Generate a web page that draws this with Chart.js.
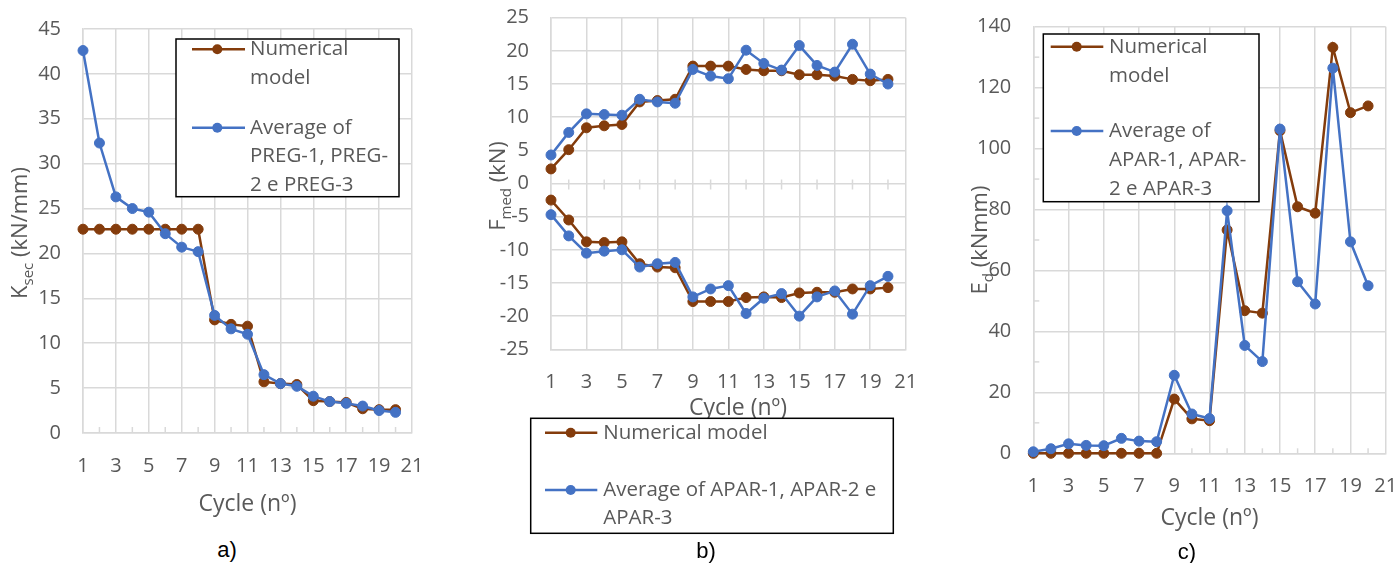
<!DOCTYPE html>
<html><head><meta charset="utf-8">
<script src="https://cdn.jsdelivr.net/npm/chart.js@4"></script>
<style>
html,body{margin:0;padding:0;background:#fff;}
body{width:1400px;height:563px;overflow:hidden;position:relative;}
.c{position:absolute;top:0;}
.cap{position:absolute;font:22px 'Liberation Sans',Arial,sans-serif;color:#000;transform:translate(-50%,-50%);line-height:1;}
</style></head><body>
<div class="c" style="left:0"><canvas id="ca" width="440" height="525"></canvas></div>
<div class="c" style="left:480px"><canvas id="cb" width="440" height="563"></canvas></div>
<div class="c" style="left:960px"><canvas id="cc" width="440" height="563"></canvas></div>
<div class="cap" style="left:227px;top:550px">a)</div>
<div class="cap" style="left:706px;top:551px">b)</div>
<div class="cap" style="left:1187px;top:552px">c)</div>
<script>
// ---------- DATA ----------
const cycles = [1,2,3,4,5,6,7,8,9,10,11,12,13,14,15,16,17,18,19,20];
const cycleTicks = [1,3,5,7,9,11,13,15,17,19,21];
const cycleMinorTicks = [2,4,6,8,10,12,14,16,18,20];

const seriesNumerical = 'Numerical model';
const seriesAvgPREG = 'Average of PREG-1, PREG-2 e PREG-3';
const seriesAvgAPAR = 'Average of APAR-1, APAR-2 e APAR-3';

// a) secant stiffness K_sec (kN/mm)
const ksecNumerical = [22.7,22.7,22.7,22.7,22.7,22.7,22.7,22.7,12.6,12.1,11.9,5.7,5.5,5.4,3.6,3.5,3.4,2.7,2.6,2.6];
const ksecAverage   = [42.6,32.3,26.3,25.0,24.6,22.2,20.7,20.2,13.1,11.6,11.0,6.5,5.5,5.2,4.1,3.5,3.3,3.0,2.5,2.3];

// b) mean force F_med (kN), positive and negative branches
const fmedNumericalPos = [2.2,5.1,8.4,8.7,8.9,12.3,12.5,12.7,17.7,17.7,17.7,17.2,17.0,17.0,16.4,16.4,16.2,15.7,15.5,15.7];
const fmedAveragePos   = [4.3,7.7,10.5,10.4,10.3,12.7,12.3,12.1,17.2,16.2,15.8,20.1,18.1,17.1,20.8,17.8,16.8,21.0,16.5,15.0];
const fmedNumericalNeg = [-2.5,-5.5,-8.8,-8.9,-8.8,-12.1,-12.6,-12.7,-17.8,-17.8,-17.8,-17.2,-17.1,-17.2,-16.5,-16.4,-16.4,-15.9,-15.9,-15.7];
const fmedAverageNeg   = [-4.7,-7.9,-10.5,-10.2,-10.0,-12.6,-12.1,-11.9,-17.1,-15.9,-15.4,-19.6,-17.3,-16.6,-20.0,-17.1,-16.2,-19.7,-15.4,-14.0];

// c) dissipated energy E_d (kNmm)
const edNumerical = [0,0,0,0,0,0,0,0,17.8,11.3,10.7,73.3,46.8,46.0,105.9,80.9,78.8,133.2,111.8,114.0];
const edAverage   = [0.5,1.5,3.1,2.6,2.5,4.9,4.0,3.8,25.6,12.9,11.4,79.6,35.4,30.1,106.4,56.3,49.0,126.4,69.4,55.0];
const edMinorTicks = [10,30,50,70,90,110,130];

// ---------- STYLE ----------
const BROWN = '#843C0C', BLUE = '#4472C4', GRID = '#d9d9d9', TXT = '#595959';
const FONT = "'Open Sans', 'Noto Sans', sans-serif";

function pts(vals){ return cycles.map((c,i)=>({x:c, y:vals[i]})); }
function ds(label, vals, color, order){
  return {label, data: pts(vals), borderColor: color, backgroundColor: color,
    pointBackgroundColor: color, pointBorderColor: color, pointRadius: 5, pointHoverRadius: 5,
    pointBorderWidth: 1, borderWidth: 2.5, tension: 0, clip: false, order};
}

const extras = {
  id: 'extras',
  beforeDatasetsDraw(chart, args, o){
    const ctx = chart.ctx, xs = chart.scales.x, ys = chart.scales.y;
    ctx.save();
    ctx.strokeStyle = GRID; ctx.lineWidth = 1.5;
    if (o.xMinor){
      const y0 = ys.getPixelForValue(o.xMinor.at);
      o.xMinor.values.forEach(v=>{
        const px = xs.getPixelForValue(v);
        ctx.beginPath(); ctx.moveTo(px, y0 - o.xMinor.up); ctx.lineTo(px, y0 + o.xMinor.down); ctx.stroke();
      });
    }
    if (o.yMinor){
      const x0 = xs.getPixelForValue(o.yMinor.at);
      o.yMinor.values.forEach(v=>{
        const py = ys.getPixelForValue(v);
        ctx.beginPath(); ctx.moveTo(x0, py); ctx.lineTo(x0 + o.yMinor.len, py); ctx.stroke();
      });
    }
    ctx.restore();
  },
  afterDraw(chart, args, o){
    const ctx = chart.ctx;
    ctx.save();
    ctx.fillStyle = TXT;
    (o.titles||[]).forEach(t=>{
      ctx.save();
      ctx.translate(t.x, t.y);
      if (t.rot) ctx.rotate(-Math.PI/2);
      ctx.textBaseline = 'alphabetic';
      const mainF = t.size + 'px ' + FONT, subF = t.subSize + 'px ' + FONT;
      ctx.font = mainF; const w1 = ctx.measureText(t.main).width;
      const w3 = ctx.measureText(t.after).width;
      ctx.font = subF; const w2 = t.sub ? ctx.measureText(t.sub).width : 0;
      let x = -(w1 + w2 + w3)/2;
      ctx.font = mainF; ctx.textAlign = 'left';
      ctx.fillText(t.main, x, 0); x += w1;
      if (t.sub){ ctx.font = subF; ctx.fillText(t.sub, x, t.subShift); x += w2; }
      ctx.font = mainF; ctx.fillText(t.after, x, 0);
      ctx.restore();
    });
    ctx.restore();
    const L = o.legend; if (!L) return;
    ctx.save();
    ctx.fillStyle = '#fff';
    ctx.fillRect(L.box[0], L.box[1], L.box[2]-L.box[0], L.box[3]-L.box[1]);
    ctx.strokeStyle = '#000'; ctx.lineWidth = 1.5;
    ctx.strokeRect(L.box[0], L.box[1], L.box[2]-L.box[0], L.box[3]-L.box[1]);
    L.items.forEach(it=>{
      const d = chart.data.datasets[it.ds];
      ctx.strokeStyle = d.borderColor; ctx.lineWidth = 2.5;
      ctx.beginPath(); ctx.moveTo(L.lineX[0], it.y); ctx.lineTo(L.lineX[1], it.y); ctx.stroke();
      ctx.fillStyle = d.borderColor;
      ctx.beginPath(); ctx.arc(L.markX, it.y, 5, 0, Math.PI*2); ctx.fill();
      ctx.fillStyle = TXT; ctx.font = L.size + 'px ' + FONT;
      ctx.textBaseline = 'middle'; ctx.textAlign = 'left';
      it.lines.forEach((ln,k)=> ctx.fillText(ln, L.textX, it.y + k*L.lh));
    });
    ctx.restore();
  }
};

function makeChart(id, cfg){
  return new Chart(document.getElementById(id), {
    type: 'line',
    data: {datasets: cfg.datasets},
    plugins: [extras],
    options: {
      responsive: false, animation: false, events: [],
      layout: {padding: {left: 0, top: cfg.top, right: cfg.right, bottom: 0}},
      plugins: {legend: {display: false}, tooltip: {enabled: false}, extras: cfg.extras},
      scales: {
        x: {type: 'linear', min: 1, max: 21,
          afterBuildTicks: s => { s.ticks = cycleTicks.map(v=>({value:v})); },
          afterFit: s => { s.height = cfg.xh; s.paddingLeft = 0; s.paddingRight = 0; },
          grid: {color: GRID, lineWidth: 1.5, drawTicks: false},
          border: {color: GRID, width: 1.5},
          ticks: {color: TXT, font: {family: FONT, size: 20}, padding: cfg.xpad, maxRotation: 0, autoSkip: false}},
        y: {type: 'linear', min: cfg.ymin, max: cfg.ymax,
          afterFit: s => { s.width = cfg.yw; s.paddingTop = 0; s.paddingBottom = 0; },
          grid: {color: GRID, lineWidth: 1.5, drawTicks: false},
          border: {color: GRID, width: 1.5},
          ticks: {stepSize: cfg.ystep, color: TXT, font: {family: FONT, size: 20}, padding: 22}}
      }
    }
  });
}

// a)
makeChart('ca', {
  datasets: [ds(seriesNumerical, ksecNumerical, BROWN, 2), ds(seriesAvgPREG, ksecAverage, BLUE, 1)],
  top: 29, right: 28, xh: 92, yw: 83, xpad: 21, ymin: 0, ymax: 45, ystep: 5,
  extras: {
    xMinor: {values: cycleMinorTicks, at: 0, up: 6, down: 0},
    titles: [
      {main: 'K', sub: 'sec', after: ' (kN/mm)', x: 27, y: 233, rot: true, size: 22, subSize: 15, subShift: 6},
      {main: 'Cycle (nº)', sub: '', after: '', x: 247.5, y: 511, rot: false, size: 23, subSize: 15, subShift: 0}
    ],
    legend: {box: [176, 39, 399, 196.7], lineX: [192, 245], markX: 217.3, textX: 250, lh: 28.8, size: 20.5,
      items: [{ds: 0, y: 49.3, lines: ['Numerical', 'model']},
              {ds: 1, y: 127.7, lines: ['Average of', 'PREG-1, PREG-', '2 e PREG-3']}]}
  }
});

// b)
makeChart('cb', {
  datasets: [ds(seriesNumerical, fmedNumericalPos, BROWN, 4), ds(seriesAvgAPAR, fmedAveragePos, BLUE, 2),
             ds(seriesNumerical, fmedNumericalNeg, BROWN, 3), ds(seriesAvgAPAR, fmedAverageNeg, BLUE, 1)],
  top: 17.7, right: 14.3, xh: 213.7, yw: 71, xpad: 21, ymin: -25, ymax: 25, ystep: 5,
  extras: {
    xMinor: {values: cycleMinorTicks, at: 0, up: 4, down: 6},
    titles: [
      {main: 'F', sub: 'med', after: ' (kN)', x: 25, y: 186, rot: true, size: 22, subSize: 15, subShift: 6},
      {main: 'Cycle (nº)', sub: '', after: '', x: 258, y: 415, rot: false, size: 23, subSize: 15, subShift: 0}
    ],
    legend: {box: [50.7, 418.3, 413.3, 533.3], lineX: [65, 117.3], markX: 90.7, textX: 123.3, lh: 28.3, size: 20.5,
      items: [{ds: 0, y: 432.7, lines: ['Numerical model']},
              {ds: 1, y: 490, lines: ['Average of APAR-1, APAR-2 e', 'APAR-3']}]}
  }
});

// c)
makeChart('cc', {
  datasets: [ds(seriesNumerical, edNumerical, BROWN, 2), ds(seriesAvgAPAR, edAverage, BLUE, 1)],
  top: 26.7, right: 14.3, xh: 109.7, yw: 73.3, xpad: 21, ymin: 0, ymax: 140, ystep: 20,
  extras: {
    xMinor: {values: cycleMinorTicks, at: 0, up: 5, down: 0},
    yMinor: {values: edMinorTicks, at: 1, len: 6},
    titles: [
      {main: 'E', sub: 'd', after: ' (kNmm)', x: 27, y: 240, rot: true, size: 22, subSize: 15, subShift: 6},
      {main: 'Cycle (nº)', sub: '', after: '', x: 249.5, y: 525, rot: false, size: 23, subSize: 15, subShift: 0}
    ],
    legend: {box: [83.3, 34, 299, 201.7], lineX: [90.7, 143.3], markX: 116.7, textX: 149, lh: 29.3, size: 20.5,
      items: [{ds: 0, y: 46.7, lines: ['Numerical', 'model']},
              {ds: 1, y: 131, lines: ['Average of', 'APAR-1, APAR-', '2 e APAR-3']}]}
  }
});
</script>
</body></html>
